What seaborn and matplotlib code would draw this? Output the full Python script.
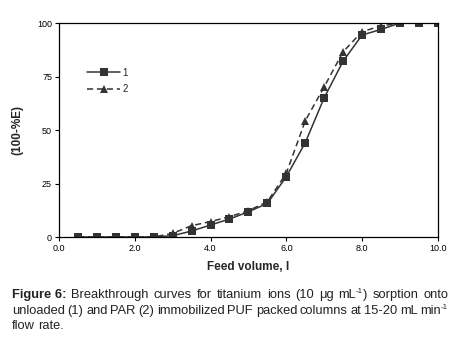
import matplotlib
matplotlib.use("Agg")
import matplotlib.pyplot as plt
import seaborn as sns
import pandas as pd
from matplotlib.lines import Line2D

feed_volume = [0.5, 1.0, 1.5, 2.0, 2.5, 3.0, 3.5, 4.0, 4.5, 5.0,
               5.5, 6.0, 6.5, 7.0, 7.5, 8.0, 8.5, 9.0, 9.5, 10.0]
series1 = [0, 0, 0, 0, 0, 0.6, 2.8, 5.6, 8.4, 11.8,
           15.7, 28.2, 44.1, 65.1, 82.2, 94.4, 97.0, 100, 100, 100]
series2 = [0, 0, 0, 0, 0, 1.7, 5.3, 7.2, 9.5, 12.3,
           16.5, 29.8, 54.3, 70.2, 86.6, 96.0, 98.6, 100, 100, 100]
labels = ["1", "2"]
xticks = [0, 2, 4, 6, 8, 10]
yticks = [0, 25, 50, 75, 100]

sns.set_style("ticks")
plt.rcParams["font.family"] = ["Liberation Sans", "DejaVu Sans"]

df1 = pd.DataFrame({"x": feed_volume, "y": series1})
df2 = pd.DataFrame({"x": feed_volume, "y": series2})

col = "#333333"
fig = plt.figure(figsize=(4.59, 3.42), dpi=100)
ax = fig.add_axes([0.1285, 0.307, 0.954 - 0.1285, 0.9327 - 0.307])

sns.lineplot(data=df2, x="x", y="y", ax=ax, color=col, lw=1.1,
             linestyle=(0, (4, 2.5)), marker="^", markersize=5.5,
             markeredgewidth=0, markerfacecolor=col)
sns.lineplot(data=df1, x="x", y="y", ax=ax, color=col, lw=1.1,
             marker="s", markersize=5.2, markeredgewidth=0,
             markerfacecolor=col)

ax.set_xlim(0, 10)
ax.set_ylim(0, 100)
ax.set_xticks(xticks)
ax.set_xticklabels([f"{v:.1f}" for v in xticks])
ax.set_yticks(yticks)
ax.tick_params(labelsize=6.5, length=3, width=0.8, colors="black", pad=2)
for s in ax.spines.values():
    s.set_linewidth(0.9)
    s.set_color("black")
ax.set_xlabel("Feed volume, l", fontsize=8.5, fontweight="bold", labelpad=6)
ax.set_ylabel("(100-%E)", fontsize=8.5, fontweight="bold", labelpad=10)

handles = [Line2D([], [], color=col, lw=1.1, marker="s", markersize=5.2,
                  markeredgewidth=0),
           Line2D([], [], color=col, lw=1.1, linestyle=(0, (4, 2.5)),
                  marker="^", markersize=5.5, markeredgewidth=0)]
ax.legend(handles, labels, loc="upper left", bbox_to_anchor=(0.065, 0.81),
          frameon=False, fontsize=7, handlelength=3.3, handletextpad=0.3,
          labelspacing=0.7, borderaxespad=0)

# caption (justified manually)
fig.canvas.draw()
r = fig.canvas.get_renderer()
W, H = fig.bbox.width, fig.bbox.height
cap_fs = 9.3
ccol = "#222222"
left_px, right_px = 12, 448

caption_lines = [
    ([("Figure 6:", "b"), ("Breakthrough", "n"), ("curves", "n"), ("for", "n"),
      ("titanium", "n"), ("ions", "n"), ("(10", "n"), ("\u03bcg", "n"),
      ("mL", "n", "-1", ")"), ("sorption", "n"), ("onto", "n")], True, 295),
    ([("unloaded", "n"), ("(1)", "n"), ("and", "n"), ("PAR", "n"), ("(2)", "n"),
      ("immobilized", "n"), ("PUF", "n"), ("packed", "n"), ("columns", "n"),
      ("at", "n"), ("15-20", "n"), ("mL", "n"), ("min", "n", "-1", "")], True, 311),
    ([("flow", "n"), ("rate.", "n")], False, 326),
]


def measure(txt, fs, weight):
    t = fig.text(0, 0, txt, fontsize=fs, fontweight=weight)
    w = t.get_window_extent(r).width
    t.remove()
    return w


space_w = measure("a a", cap_fs, "normal") - measure("aa", cap_fs, "normal")

for words, justify, ypx in caption_lines:
    widths = []
    for wd in words:
        wgt = "bold" if wd[1] == "b" else "normal"
        w = measure(wd[0], cap_fs, wgt)
        if len(wd) > 2:
            w += measure(wd[2], cap_fs * 0.6, "normal")
            if wd[3]:
                w += measure(wd[3], cap_fs, "normal")
        widths.append(w)
    total = sum(widths)
    if justify and len(words) > 1:
        gap = (right_px - left_px - total) / (len(words) - 1)
    else:
        gap = space_w
    x = left_px
    yf = 1 - ypx / H
    for wd, w in zip(words, widths):
        wgt = "bold" if wd[1] == "b" else "normal"
        fig.text(x / W, yf, wd[0], fontsize=cap_fs, fontweight=wgt,
                 va="center", color=ccol)
        xx = x + measure(wd[0], cap_fs, wgt)
        if len(wd) > 2:
            fig.text(xx / W, yf + 3.5 / H, wd[2], fontsize=cap_fs * 0.6,
                     va="center", color=ccol)
            xx += measure(wd[2], cap_fs * 0.6, "normal")
            if wd[3]:
                fig.text(xx / W, yf, wd[3], fontsize=cap_fs, va="center",
                         color=ccol)
        x += w + gap

fig.savefig("out.png", dpi=100)
